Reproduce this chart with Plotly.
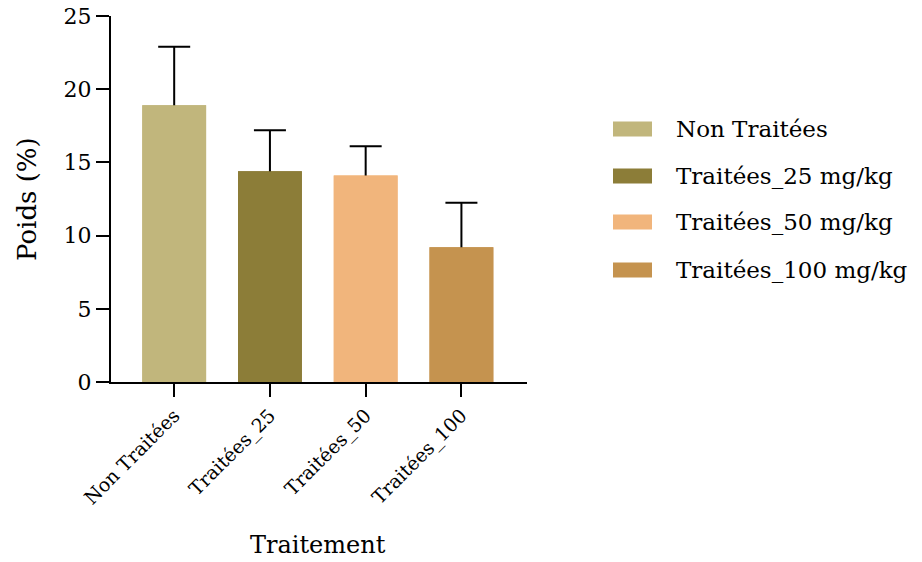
import plotly.graph_objects as go

# Data
categories = ["Non Traitées", "Traitées_25", "Traitées_50", "Traitées_100"]
legend_names = ["Non Traitées", "Traitées_25 mg/kg", "Traitées_50 mg/kg", "Traitées_100 mg/kg"]
means = [18.9, 14.4, 14.1, 9.2]
sd = [4.0, 2.8, 2.0, 3.05]
colors = ["#C1B67C", "#8C7D38", "#F1B57C", "#C5934F"]

y_ticks = [0, 5, 10, 15, 20, 25]

FONT = "DejaVu Serif"
W, H = 922, 562
L, R, T, B = 111, 395, 16, 180


def px_x(px):
    return (px - L) / (W - L - R)


def px_y(py):
    return 1 - (py - T) / (H - T - B)


fig = go.Figure()
# Error bars (SD) first; the bars drawn afterwards hide their lower half
for cat, m, e, c in zip(categories, means, sd, colors):
    fig.add_trace(go.Bar(
        x=[cat], y=[m],
        marker=dict(color=c, line=dict(width=0)),
        error_y=dict(type="data", array=[e], color="black", thickness=2, width=16),
        showlegend=False, hoverinfo="skip",
    ))
for cat, m, c in zip(categories, means, colors):
    fig.add_trace(go.Bar(
        x=[cat], y=[m],
        marker=dict(color=c, line=dict(width=0)),
        showlegend=False,
    ))

fig.update_layout(
    width=W, height=H,
    margin=dict(l=L, r=R, t=T, b=B, autoexpand=False),
    plot_bgcolor="white", paper_bgcolor="white",
    barmode="overlay",
    bargap=1 / 3,
    font=dict(family=FONT, color="black"),
    xaxis=dict(
        type="category", categoryorder="array", categoryarray=categories,
        range=[-0.66, 3.685], showline=True, linecolor="black", linewidth=2,
        ticks="outside", ticklen=13, tickwidth=2, tickcolor="black",
        tickangle=-45, tickfont=dict(family=FONT, size=19), showgrid=False,
        zeroline=False,
    ),
    yaxis=dict(
        range=[0, 25], tickvals=y_ticks, showline=True, linecolor="black",
        linewidth=2, ticks="outside", ticklen=13, tickwidth=2, tickcolor="black",
        tickfont=dict(family=FONT, size=22), showgrid=False, zeroline=False,
    ),
)

# Axis titles
fig.add_annotation(text="Poids (%)", xref="paper", yref="paper",
                   x=px_x(27), y=px_y(199), textangle=-90, showarrow=False,
                   font=dict(family=FONT, size=26), xanchor="center", yanchor="middle")
fig.add_annotation(text="Traitement", xref="paper", yref="paper",
                   x=px_x(318), y=px_y(545), showarrow=False,
                   font=dict(family=FONT, size=24), xanchor="center", yanchor="middle")

# Legend
legend_y = [129, 176, 222, 270]
for name, c, ly in zip(legend_names, colors, legend_y):
    fig.add_shape(type="rect", xref="paper", yref="paper",
                  x0=px_x(613), x1=px_x(652), y0=px_y(ly - 7.5), y1=px_y(ly + 7.5),
                  fillcolor=c, line=dict(width=0))
    fig.add_annotation(text=name, xref="paper", yref="paper",
                       x=px_x(674), y=px_y(ly), showarrow=False,
                       xanchor="left", yanchor="middle",
                       font=dict(family=FONT, size=23))

fig.write_html("out.html")
